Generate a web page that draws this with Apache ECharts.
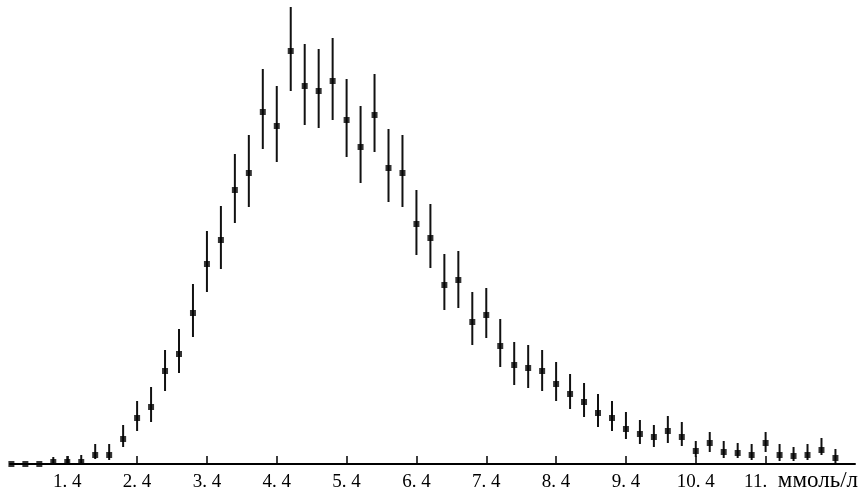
<!DOCTYPE html>
<html>
<head>
<meta charset="utf-8">
<script src="https://cdn.jsdelivr.net/npm/echarts@6/dist/echarts.min.js"></script>
<style>
  html, body { margin: 0; padding: 0; background: #fff; }
  #chart { width: 861px; height: 495px; }
</style>
</head>
<body>
<div id="chart"></div>
<script>
// glucose levels, mmol/l (0.6 ... 12.4, step 0.2)
var glucose = [
  0.6, 0.8, 1.0, 1.2, 1.4, 1.6, 1.8, 2.0, 2.2, 2.4,
  2.6, 2.8, 3.0, 3.2, 3.4, 3.6, 3.8, 4.0, 4.2, 4.4,
  4.6, 4.8, 5.0, 5.2, 5.4, 5.6, 5.8, 6.0, 6.2, 6.4,
  6.6, 6.8, 7.0, 7.2, 7.4, 7.6, 7.8, 8.0, 8.2, 8.4,
  8.6, 8.8, 9.0, 9.2, 9.4, 9.6, 9.8, 10.0, 10.2, 10.4,
  10.6, 10.8, 11.0, 11.2, 11.4, 11.6, 11.8, 12.0, 12.2, 12.4
];
// frequency (arbitrary units)
var freq = [
  0, 0, 0, 2, 2, 2, 9, 9, 25, 46,
  57, 93, 110, 151, 200, 224, 274, 291, 352, 338,
  413, 378, 373, 383, 344, 317, 349, 296, 291, 240,
  226, 179, 184, 142, 149, 118, 99, 96, 93, 80,
  70, 62, 51, 46, 35, 30, 27, 33, 27, 13,
  21, 12, 11, 9, 21, 9, 8, 9, 14, 6
];
var freqLow = [
  0, 0, 0, 0, 0, 0, 5, 4, 17, 33,
  42, 73, 91, 127, 172, 195, 241, 257, 315, 302,
  373, 339, 336, 344, 307, 281, 312, 262, 257, 209,
  196, 154, 156, 119, 126, 97, 79, 76, 73, 63,
  55, 47, 37, 33, 25, 20, 17, 21, 18, 7,
  12, 6, 6, 4, 12, 3, 3, 4, 9, 1
];
var freqHigh = [
  0, 0, 0, 7, 8, 9, 20, 20, 39, 63,
  77, 114, 135, 180, 233, 258, 310, 329, 395, 378,
  457, 420, 415, 426, 385, 358, 390, 335, 329, 274,
  260, 210, 213, 172, 176, 145, 122, 119, 114, 102,
  90, 81, 70, 63, 52, 44, 39, 48, 42, 23,
  32, 23, 21, 20, 32, 20, 17, 20, 26, 15
];
var tickValues = [1.4, 2.4, 3.4, 4.4, 5.4, 6.4, 7.4, 8.4, 9.4, 10.4, 11.4];

var chart = echarts.init(document.getElementById('chart'));

var points = glucose.map(function (g, i) { return [g, freq[i]]; });
var bars = glucose.map(function (g, i) { return [g, freqLow[i], freqHigh[i]]; });

var option = {
  backgroundColor: '#fff',
  animation: false,
  grid: { left: 10, right: 4, top: 0, bottom: 31 },
  xAxis: {
    type: 'value',
    min: 0.58,
    max: 12.68,
    name: 'ммоль/л',
    nameLocation: 'end',
    nameGap: 3,
    nameTextStyle: {
      color: '#000',
      fontFamily: 'Liberation Serif',
      fontSize: 23,
      lineHeight: 23,
      align: 'right',
      verticalAlign: 'top',
      padding: [5, 0, 0, 0]
    },
    splitLine: { show: false },
    axisLine: { show: true, lineStyle: { color: '#000', width: 2 } },
    axisTick: {
      show: true,
      inside: true,
      length: 8,
      customValues: tickValues,
      lineStyle: { color: '#000', width: 1.5 }
    },
    axisLabel: {
      customValues: tickValues,
      color: '#000',
      fontFamily: 'Liberation Serif',
      fontSize: 19,
      margin: 9,
      formatter: function (v) {
        // the last label is cut short by the unit in the original
        if (Math.abs(v - 11.4) < 1e-6) return '{cut|11.}';
        return v.toFixed(1).replace('.', '. ');
      },
      rich: {
        cut: {
          color: '#000',
          fontFamily: 'Liberation Serif',
          fontSize: 19,
          padding: [0, 20, 0, 0]
        }
      }
    }
  },
  yAxis: {
    type: 'value',
    min: 0,
    max: 464,
    show: false,
    splitLine: { show: false }
  },
  series: [
    {
      type: 'custom',
      data: bars,
      renderItem: function (params, api) {
        var top = api.coord([api.value(0), api.value(2)]);
        var bottom = api.coord([api.value(0), api.value(1)]);
        return {
          type: 'line',
          shape: { x1: top[0], y1: top[1], x2: bottom[0], y2: bottom[1] },
          style: { stroke: '#111', lineWidth: 2 }
        };
      },
      z: 2
    },
    {
      type: 'scatter',
      data: points,
      symbol: 'rect',
      symbolSize: 6,
      itemStyle: { color: '#000' },
      z: 3
    }
  ]
};

chart.setOption(option);
</script>
</body>
</html>
